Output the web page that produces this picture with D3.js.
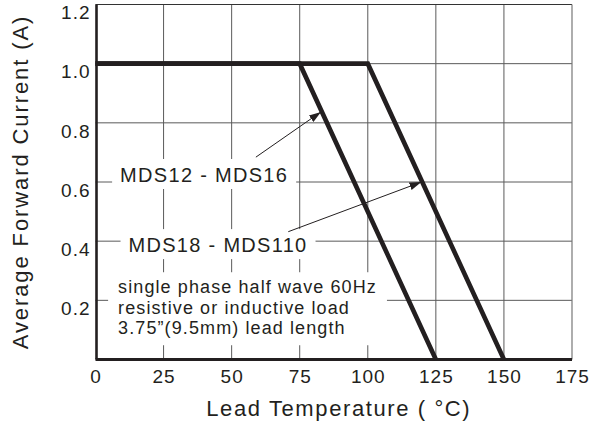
<!DOCTYPE html>
<html>
<head>
<meta charset="utf-8">
<script src="https://cdn.jsdelivr.net/npm/d3@7"></script>
<style>
  html, body { margin: 0; padding: 0; background: #fff; }
  svg { display: block; font-family: "Liberation Sans", Arial, Helvetica, sans-serif; }
</style>
</head>
<body>
<svg id="chart" width="595" height="425"></svg>
<script>
// ---- data ----
const xTicks = [0, 25, 50, 75, 100, 125, 150, 175];
const yTicks = [0.2, 0.4, 0.6, 0.8, 1.0, 1.2];
const yTickLabels = ["0.2", "0.4", "0.6", "0.8", "1.0", "1.2"];
const tempA = [0, 75, 125];          // MDS12 - MDS16
const currentA = [1.0, 1.0, 0];
const tempB = [0, 100, 150];         // MDS18 - MDS110
const currentB = [1.0, 1.0, 0];
const seriesNames = ["MDS12 - MDS16", "MDS18 - MDS110"];
const labelTemp = [39.9, 45];
const labelCurrent = [0.6, 0.363];
const arrowFromTemp = [58.9, 70.8];
const arrowFromCurrent = [0.684, 0.432];
const arrowToTemp = [82.8, 119.7];
const arrowToCurrent = [0.837, 0.6];
const noteLines = ["single phase half wave 60Hz", "resistive or inductive load", "3.75\u201D(9.5mm) lead length"];
const noteTemp = 8.3;
const noteCurrent = 0.224;
const xTitle = "Lead Temperature ( \u00B0C)";
const yTitle = "Average Forward Current (A)";

// ---- layout ----
const svg = d3.select("#chart");
const x = d3.scaleLinear().domain([0, 175]).range([95.5, 572]);
const y = d3.scaleLinear().domain([0, 1.2]).range([359.5, 4.5]);
const gridColor = "#5a5a5a";

// grid
const grid = svg.append("g");
grid.selectAll("line.v").data(xTicks.slice(1, -1)).join("line")
  .attr("x1", d => x(d)).attr("x2", d => x(d))
  .attr("y1", y(0)).attr("y2", y(1.2))
  .attr("stroke", gridColor).attr("stroke-width", 1);
grid.selectAll("line.h").data(yTicks.slice(0, -1)).join("line")
  .attr("x1", x(0)).attr("x2", x(175))
  .attr("y1", d => y(d)).attr("y2", d => y(d))
  .attr("stroke", gridColor).attr("stroke-width", 1);
// frame top / right
svg.append("line").attr("x1", x(0)).attr("x2", x(175)).attr("y1", y(1.2)).attr("y2", y(1.2))
  .attr("stroke", "#333").attr("stroke-width", 1.2);
svg.append("line").attr("x1", x(175)).attr("x2", x(175)).attr("y1", y(0)).attr("y2", y(1.2))
  .attr("stroke", "#777").attr("stroke-width", 1.2);

// text boxes with white background
function boxedText(g, lines, cx, by, anchor, size, spacing, lh, padX, padT, padB) {
  const grp = g.append("g");
  const rect = grp.append("rect").attr("fill", "#fff");
  const t = grp.append("text")
    .attr("x", cx).attr("y", by)
    .attr("text-anchor", anchor)
    .attr("font-size", size)
    .attr("letter-spacing", spacing)
    .attr("fill", "#231f20");
  lines.forEach((l, i) => {
    t.append("tspan").attr("x", cx).attr("dy", i === 0 ? 0 : lh).text(l);
  });
  const bb = t.node().getBBox();
  rect.attr("x", bb.x - padX).attr("y", bb.y - padT)
    .attr("width", bb.width + 2 * padX).attr("height", bb.height + padT + padB);
  return grp;
}

const ann = svg.append("g");
seriesNames.forEach((name, i) => {
  boxedText(ann, [name], x(labelTemp[i]), y(labelCurrent[i]), "middle", 20, 1.3, 0, 8, 5, 3);
});
boxedText(ann, noteLines, x(noteTemp), y(noteCurrent), "start", 18, 1.1, 20.5, 10, 5, 7);

// axes lines
svg.append("line").attr("x1", x(0) + 1).attr("x2", x(0) + 1).attr("y1", y(0)).attr("y2", y(1.2))
  .attr("stroke", "#231f20").attr("stroke-width", 2.6);
svg.append("line").attr("x1", x(0)).attr("x2", x(175)).attr("y1", y(0)).attr("y2", y(0))
  .attr("stroke", "#231f20").attr("stroke-width", 3);

// curves
const line = d3.line().x(d => x(d[0])).y(d => y(d[1]));
const curves = [d3.zip(tempA, currentA), d3.zip(tempB, currentB)];
svg.selectAll("path.curve").data(curves).join("path")
  .attr("class", "curve")
  .attr("d", line)
  .attr("fill", "none")
  .attr("stroke", "#231f20")
  .attr("stroke-width", 4.6)
  .attr("stroke-linejoin", "miter");

// arrows
svg.append("defs").append("marker")
  .attr("id", "arrow").attr("markerUnits", "userSpaceOnUse")
  .attr("viewBox", "0 0 12 8").attr("refX", 12).attr("refY", 4)
  .attr("markerWidth", 12).attr("markerHeight", 8).attr("orient", "auto")
  .append("path").attr("d", "M0,0 L12,4 L0,8 Z").attr("fill", "#231f20");
svg.selectAll("line.arrow").data(d3.range(arrowFromTemp.length)).join("line")
  .attr("x1", i => x(arrowFromTemp[i])).attr("y1", i => y(arrowFromCurrent[i]))
  .attr("x2", i => x(arrowToTemp[i])).attr("y2", i => y(arrowToCurrent[i]))
  .attr("stroke", "#231f20").attr("stroke-width", 1)
  .attr("marker-end", "url(#arrow)");

// tick labels via axes
const xAxis = d3.axisBottom(x).tickValues(xTicks).tickSize(0).tickPadding(10).tickFormat(d3.format("d"));
const gx = svg.append("g").attr("transform", `translate(0,${y(0)})`).call(xAxis);
gx.select(".domain").remove();
gx.selectAll("text").attr("font-size", 19).attr("letter-spacing", 1).attr("fill", "#231f20")
  .attr("font-family", "Liberation Sans, Arial, sans-serif");

const yAxis = d3.axisLeft(y).tickValues(yTicks).tickSize(0).tickPadding(5)
  .tickFormat((d, i) => yTickLabels[i]);
const gy = svg.append("g").attr("transform", `translate(${x(0)},0)`).call(yAxis);
gy.select(".domain").remove();
gy.selectAll("text").attr("font-size", 19).attr("letter-spacing", 1).attr("fill", "#231f20")
  .attr("dy", "0.75em")
  .attr("font-family", "Liberation Sans, Arial, sans-serif");

// axis titles
svg.append("text")
  .attr("x", (x(0) + x(175)) / 2 + 5).attr("y", 416)
  .attr("text-anchor", "middle").attr("font-size", 22).attr("letter-spacing", 1.6)
  .attr("fill", "#231f20").text(xTitle);
svg.append("text")
  .attr("transform", `translate(28,${(y(0) + y(1.2)) / 2}) rotate(-90)`)
  .attr("text-anchor", "middle").attr("font-size", 22).attr("letter-spacing", 1.9)
  .attr("fill", "#231f20").text(yTitle);
</script>
</body>
</html>
